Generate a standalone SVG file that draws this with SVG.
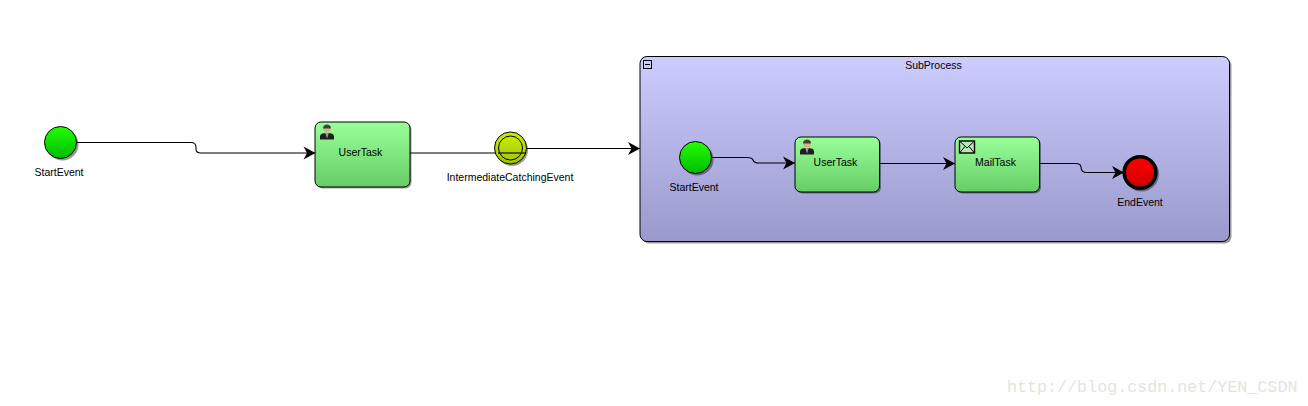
<svg xmlns="http://www.w3.org/2000/svg" xmlns:xlink="http://www.w3.org/1999/xlink" width="1308" height="406" viewBox="0 0 1308 406">
<style>
text{font-family:"Liberation Sans",Arial,sans-serif;font-size:10.5px;fill:#000;text-anchor:middle}
.task{fill:url(#gTask);stroke:#000;stroke-width:1}
.sh{fill:#000;fill-opacity:.4}
.start{fill:url(#gStart);stroke:#000;stroke-width:1}
.conn{fill:none;stroke:#000;stroke-width:1.100;marker-end:url(#arrow)}
.plain{fill:none;stroke:#000;stroke-width:1.100}
.wm{font-family:"Liberation Mono",monospace;font-size:16.7px;fill:#e4e4df;text-anchor:start}
</style>
<defs>
<linearGradient id="gTask" x1="0" y1="0" x2="0" y2="1"><stop offset="0" stop-color="#99ff99"/><stop offset="1" stop-color="#66cc66"/></linearGradient>
<linearGradient id="gStart" x1="0" y1="0" x2="0" y2="1"><stop offset="0" stop-color="#22ff00"/><stop offset="1" stop-color="#00bb00"/></linearGradient>
<linearGradient id="gInter" x1="0" y1="0" x2="0" y2="1"><stop offset="0" stop-color="#ccf000"/><stop offset="1" stop-color="#a0c400"/></linearGradient>
<linearGradient id="gEnd" x1="0" y1="0" x2="0" y2="1"><stop offset="0" stop-color="#ff0000"/><stop offset="1" stop-color="#cc0000"/></linearGradient>
<linearGradient id="gSub" x1="0" y1="0" x2="0" y2="1"><stop offset="0" stop-color="#ccccff"/><stop offset="1" stop-color="#9999cc"/></linearGradient>
<marker id="arrow" markerUnits="userSpaceOnUse" markerWidth="14" markerHeight="14" refX="12" refY="6.500" orient="auto" overflow="visible"><path d="M0 0L12 6.500L0 13L3.500 6.500Z" fill="#000"/></marker>
<g id="person">
<path d="M0 15.500V12.500C0 10 2.500 9 7 9S14 10 14 12.500V15.500Z" fill="#1e1e22"/>
<path d="M5.200 9L7 14.500L8.800 9Z" fill="#9a9a9a"/>
<circle cx="7" cy="5" r="3.600" fill="#d8b090"/>
<path d="M3 4.500C3 1.500 5 .5 7 .5S11 1.500 11 4.500Z" fill="#4a4030"/>
</g>
</defs>

<g id="subprocess">
<rect class="sh" x="642" y="58.500" width="589.500" height="185" rx="7"/>
<rect x="640" y="56.500" width="589.500" height="185" rx="7" fill="url(#gSub)" stroke="#000" stroke-width="1"/>
<rect x="643.500" y="60.500" width="8" height="8" fill="none" stroke="#000"/>
<path d="M645 64.500H650" stroke="#000" fill="none"/>
<text x="933.500" y="68.500">SubProcess</text>
</g>

<g id="start1">
<circle class="sh" cx="62.500" cy="144.500" r="16"/>
<circle class="start" cx="60.500" cy="142.500" r="16"/>
<text x="59" y="175.500">StartEvent</text>
</g>

<g id="usertask1">
<rect class="sh" x="316.500" y="123.500" width="95" height="65" rx="6"/>
<rect class="task" x="315" y="122" width="95" height="65" rx="6"/>
<use xlink:href="#person" href="#person" x="320" y="124"/>
<text x="360.500" y="155.500">UserTask</text>
</g>

<g id="connectors">
<path class="conn" d="M76.500 142.500H191Q196 142.500 196 147.500V149Q196 153 201 153H315.500"/>
<path class="plain" d="M410 153H525"/>
<path class="conn" d="M526 148.500H640"/>
<path class="conn" d="M711.500 157.500H747Q752 157.500 753 160Q754 163 759 163H795"/>
<path class="conn" d="M879.500 163.500H955"/>
<path class="conn" d="M1039.500 163.500H1075Q1081 163.500 1081 167Q1081 172.500 1087 172.500H1124"/>
</g>

<g id="intermediate">
<circle class="sh" cx="512" cy="150" r="16"/>
<circle cx="510.500" cy="148" r="16" fill="url(#gInter)" stroke="#000" stroke-width="1"/>
<circle cx="510.500" cy="148" r="12" fill="none" stroke="#000" stroke-width="1"/>
<path class="plain" d="M498 153H526"/>
<text x="510" y="181">IntermediateCatchingEvent</text>
</g>

<g id="start2">
<circle class="sh" cx="697.500" cy="159.500" r="16"/>
<circle class="start" cx="695.500" cy="157.500" r="16"/>
<text x="694" y="190.500">StartEvent</text>
</g>

<g id="usertask2">
<rect class="sh" x="796.500" y="138.500" width="84.500" height="55" rx="6"/>
<rect class="task" x="795" y="137" width="84.500" height="55" rx="6"/>
<use xlink:href="#person" href="#person" x="800" y="139"/>
<text x="835.500" y="165.500">UserTask</text>
</g>

<g id="mailtask">
<rect class="sh" x="956.500" y="138.500" width="84.500" height="55" rx="6"/>
<rect class="task" x="955" y="137" width="84.500" height="55" rx="6"/>
<rect x="959.500" y="141" width="15" height="12" fill="#b8e8b8" stroke="#000" stroke-width="1.400"/>
<path d="M959.500 141L967 148L974.500 141M959.500 153L965 146.500M974.500 153L969 146.500" fill="none" stroke="#000"/>
<text x="995.500" y="165.500">MailTask</text>
</g>

<g id="endevent">
<circle class="sh" cx="1141.500" cy="174" r="17.500"/>
<circle cx="1140" cy="172.500" r="15.800" fill="url(#gEnd)" stroke="#000" stroke-width="3.600"/>
<text x="1140" y="205.500">EndEvent</text>
</g>

<text class="wm" x="1007" y="392">http://blog.csdn.net/YEN_CSDN</text>
</svg>
